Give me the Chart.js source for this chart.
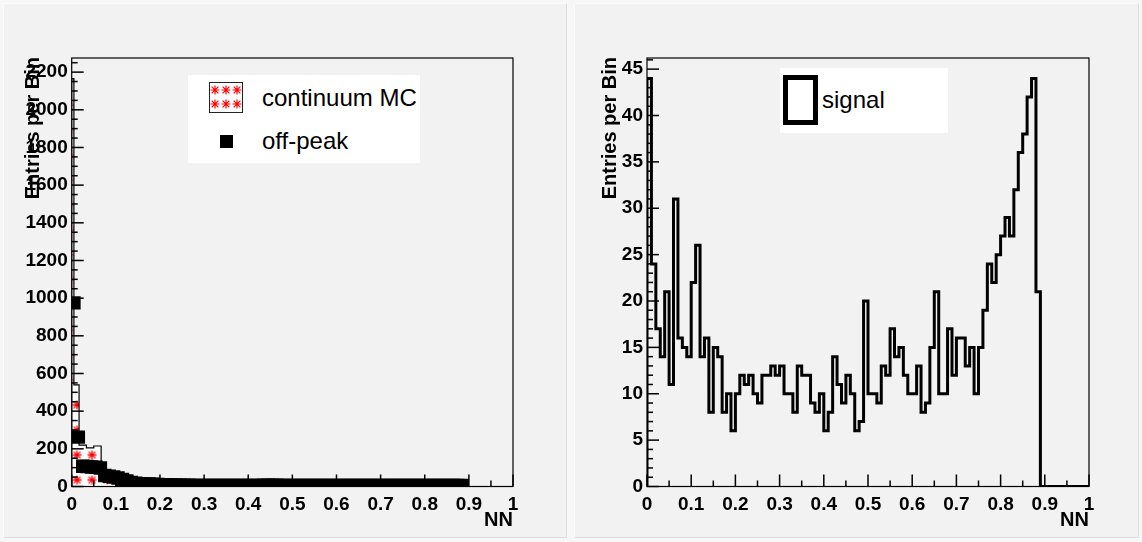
<!DOCTYPE html>
<html>
<head>
<meta charset="utf-8">
<script src="https://cdn.jsdelivr.net/npm/chart.js@4.4.1/dist/chart.umd.min.js"></script>
<style>
html, body { margin: 0; padding: 0; background: #f2f2f2; }
#page { position: relative; width: 1142px; height: 542px; overflow: hidden; background: #f7f7f7; }
.pad { position: absolute; background: #f2f2f2; box-sizing: border-box; border: 1px solid; border-color: #fbfbfb #dcdcdc #dcdcdc #fbfbfb; }
canvas.plot { position: absolute; top: 0; }
.leg { position: absolute; background: #fff; }
.leg span { position: absolute; white-space: nowrap; font-family: "Liberation Sans", Arial, sans-serif; font-size: 24px; line-height: 24px; color: #000; }
</style>
</head>
<body>
<div id="page">
  <div class="pad" style="left:3px;top:3px;width:564px;height:535px"></div>
  <div class="pad" style="left:574px;top:3px;width:565px;height:535px"></div>
  <canvas class="plot" id="cLeft" width="571" height="542" style="left:0"></canvas>
  <canvas class="plot" id="cRight" width="571" height="542" style="left:571px"></canvas>

  <div class="leg" style="left:188px;top:75px;width:232px;height:88px">
    <canvas id="hatchKey" width="34" height="31" style="position:absolute;left:21px;top:7px"></canvas>
    <div style="position:absolute;left:32px;top:60px;width:13px;height:13px;background:#000"></div>
    <span style="left:74px;top:11px">continuum MC</span>
    <span style="left:74px;top:54px">off-peak</span>
  </div>
  <div class="leg" style="left:780px;top:68px;width:168px;height:65px">
    <div style="position:absolute;left:3px;top:7px;width:35px;height:50px;box-sizing:border-box;border:5px solid #000;background:#fff"></div>
    <span style="left:42px;top:20px">signal</span>
  </div>
</div>

<script>
// NN axis, 100 bins of 0.01
const nnTicks = [0, 0.1, 0.2, 0.3, 0.4, 0.5, 0.6, 0.7, 0.8, 0.9, 1];
const nnTickLabels = ['0', '0.1', '0.2', '0.3', '0.4', '0.5', '0.6', '0.7', '0.8', '0.9', '1'];
const nnBinWidth = 0.01;

// left pad: continuum MC (variable bins) and off-peak points
const leftYTicks = [0, 200, 400, 600, 800, 1000, 1200, 1400, 1600, 1800, 2000, 2200];
const leftYMax = 2275;
const mcEdges = [0, 0.005, 0.0167, 0.0333, 0.05, 0.0667, 0.0833, 0.1, 0.1167, 0.1333, 0.15,
  0.1667, 0.1833, 0.2, 0.25, 0.3, 0.35, 0.4, 0.45, 0.5, 0.55, 0.6, 0.65, 0.7, 0.75, 0.8, 0.85, 0.8833];
const mcCounts = [2165, 540, 220, 205, 215, 40, 28, 20, 15, 12,
  10, 9, 8, 7, 6, 6, 5, 5, 5, 5, 5, 4, 4, 4, 4, 4, 4];
const offPeakCounts = [
  975, 262, 108, 106, 104, 102, 98, 58, 54, 50,
  45, 38, 30, 22, 18, 15, 14, 13, 12, 11,
  10, 9, 8, 8, 7, 7, 7, 6, 6, 6,
  6, 6, 6, 6, 6, 6, 6, 6, 6, 6,
  6, 6, 6, 7, 7, 7, 7, 6, 6, 6,
  6, 6, 5, 5, 5, 5, 5, 5, 5, 5,
  5, 5, 5, 6, 6, 6, 6, 6, 6, 6,
  6, 5, 5, 5, 6, 6, 6, 6, 6, 6,
  5, 5, 5, 5, 5, 5, 5, 5, 5];

// right pad: signal
const rightYTicks = [0, 5, 10, 15, 20, 25, 30, 35, 40, 45];
const rightYMax = 46.2;
const signalCounts = [
  44, 24, 17, 14, 21, 11, 31, 16, 15, 14,
  22, 26, 14, 16, 8, 15, 14, 8, 10, 6,
  10, 12, 11, 12, 10, 9, 12, 12, 13, 12,
  13, 10, 10, 8, 13, 12, 12, 9, 8, 10,
  6, 8, 14, 11, 9, 12, 10, 6, 7, 20,
  10, 10, 9, 13, 12, 17, 14, 15, 12, 10,
  10, 13, 8, 9, 15, 21, 10, 10, 17, 12,
  16, 16, 13, 15, 10, 15, 19, 24, 22, 25,
  27, 29, 27, 32, 36, 38, 42, 44, 21, 0,
  0, 0, 0, 0, 0, 0, 0, 0, 0, 0];

const tickFont = { family: 'Liberation Sans', size: 19, weight: 'bold' };

// histogram outline: each count holds from its own left edge to the next edge
function stepPoints(edges, counts) {
  let pts = [{ x: edges[0], y: 0 }];
  counts.forEach((c, i) => pts.push({ x: edges[i], y: c }));
  pts.push({ x: edges[edges.length - 1], y: 0 });
  return pts;
}

function drawStar(g, cx, cy, r) {
  g.beginPath();
  g.moveTo(cx - r, cy); g.lineTo(cx + r, cy);
  g.moveTo(cx, cy - r); g.lineTo(cx, cy + r);
  g.moveTo(cx - r * 0.75, cy - r * 0.75); g.lineTo(cx + r * 0.75, cy + r * 0.75);
  g.moveTo(cx - r * 0.75, cy + r * 0.75); g.lineTo(cx + r * 0.75, cy - r * 0.75);
  g.stroke();
}

function starPattern() {
  let c = document.createElement('canvas');
  c.width = 15; c.height = 25;
  let g = c.getContext('2d');
  g.fillStyle = '#fff';
  g.fillRect(0, 0, 15, 25);
  g.strokeStyle = '#ff0000';
  g.lineWidth = 1.3;
  drawStar(g, 7.5, 12.5, 4.5);
  let p = document.getElementById('cLeft').getContext('2d').createPattern(c, 'repeat');
  p.setTransform(new DOMMatrix([1, 0, 0, 1, 9.5, 17.5]));
  return p;
}

// legend key for the hatched histogram
(function () {
  let g = document.getElementById('hatchKey').getContext('2d');
  g.fillStyle = '#fff'; g.fillRect(0, 0, 34, 31);
  g.strokeStyle = '#ff0000'; g.lineWidth = 1.2;
  [6, 17, 28].forEach(x => { drawStar(g, x, 8, 4.5); drawStar(g, x, 22, 4.5); });
  g.strokeStyle = '#222'; g.lineWidth = 1; g.strokeRect(0.5, 0.5, 33, 30);
})();

// frame, inward ticks and axis titles, ROOT style
function rootFrame(yTicks, ySub, titleX) {
  return {
    id: 'rootFrame',
    afterDraw(chart) {
      const ctx = chart.ctx, a = chart.chartArea;
      const xs = chart.scales.x, ys = chart.scales.y;
      ctx.save();
      ctx.strokeStyle = '#000';
      ctx.lineWidth = 1.2;
      ctx.strokeRect(a.left, a.top, a.right - a.left, a.bottom - a.top);
      ctx.lineWidth = 1.5;
      let line = (x1, y1, x2, y2) => { ctx.beginPath(); ctx.moveTo(x1, y1); ctx.lineTo(x2, y2); ctx.stroke(); };
      // x ticks: major 0.1, minor 0.05
      for (let i = 0; i < nnTicks.length; i++) {
        let px = xs.getPixelForValue(nnTicks[i]);
        line(px, a.bottom, px, a.bottom - 12);
        if (i < nnTicks.length - 1) {
          let pm = xs.getPixelForValue((nnTicks[i] + nnTicks[i + 1]) / 2);
          line(pm, a.bottom, pm, a.bottom - 6);
        }
      }
      // y ticks with minor subdivisions
      const step = yTicks[1] - yTicks[0], sub = step / ySub;
      for (let k = 0; k * sub <= ys.max + 1e-9; k++) {
        let py = ys.getPixelForValue(k * sub);
        line(a.left, py, a.left + (k % ySub === 0 ? 12 : 6), py);
      }

      ctx.fillStyle = '#000';
      ctx.font = 'bold 20px "Liberation Sans"';
      ctx.textBaseline = 'middle';
      ctx.textAlign = 'right';
      ctx.fillText('NN', a.right, 520);
      ctx.translate(titleX, a.top - 1);
      ctx.rotate(-Math.PI / 2);
      ctx.fillText('Entries per Bin', 0, 0);
      ctx.restore();
    }
  };
}

function makeScales(yTicks, yMax, yWidth) {
  return {
    x: {
      type: 'linear', min: 0, max: 1,
      afterBuildTicks: s => { s.ticks = nnTicks.map(v => ({ value: v })); },
      afterFit: s => { s.height = 55.5; },
      ticks: { callback: (v, i) => nnTickLabels[i], font: tickFont, color: '#000', padding: 7, maxRotation: 0, autoSkip: false },
      grid: { display: false, drawTicks: false },
      border: { display: false }
    },
    y: {
      type: 'linear', min: 0, max: yMax,
      afterBuildTicks: s => { s.ticks = yTicks.map(v => ({ value: v })); },
      afterFit: s => { s.width = yWidth; },
      ticks: { callback: v => String(v), font: tickFont, color: '#000', padding: 4, autoSkip: false },
      grid: { display: false, drawTicks: false },
      border: { display: false }
    }
  };
}

const commonPlugins = { legend: { display: false }, tooltip: { enabled: false } };

const leftChart = new Chart(document.getElementById('cLeft'), {
  data: {
    datasets: [{
      type: 'scatter',
      label: 'off-peak',
      data: offPeakCounts.map((c, i) => ({ x: (i + 0.5) * nnBinWidth, y: c })),
      pointStyle: 'rect',
      pointRadius: 9.5,
      backgroundColor: '#000',
      borderWidth: 0,
      order: 0
    }, {
      type: 'line',
      label: 'continuum MC',
      data: stepPoints(mcEdges, mcCounts),
      stepped: 'before',
      fill: 'origin',
      backgroundColor: starPattern(),
      borderColor: '#000',
      borderWidth: 1.2,
      pointRadius: 0,
      order: 1
    }]
  },
  options: {
    responsive: false,
    animation: false,
    layout: { padding: { left: 0, right: 58, top: 58, bottom: 0 } },
    scales: makeScales(leftYTicks, leftYMax, 71.7),
    plugins: commonPlugins
  },
  plugins: [rootFrame(leftYTicks, 4, 33)]
});

const signalEdges = signalCounts.map((c, i) => i * nnBinWidth).concat([1]);
const rightChart = new Chart(document.getElementById('cRight'), {
  type: 'line',
  data: {
    datasets: [{
      label: 'signal',
      data: stepPoints(signalEdges, signalCounts),
      stepped: 'before',
      fill: false,
      borderColor: '#000',
      borderWidth: 3,
      pointRadius: 0
    }]
  },
  options: {
    responsive: false,
    animation: false,
    layout: { padding: { left: 0, right: 53, top: 58, bottom: 0 } },
    scales: makeScales(rightYTicks, rightYMax, 76),
    plugins: commonPlugins
  },
  plugins: [rootFrame(rightYTicks, 5, 39.5)]
});
</script>
</body>
</html>
